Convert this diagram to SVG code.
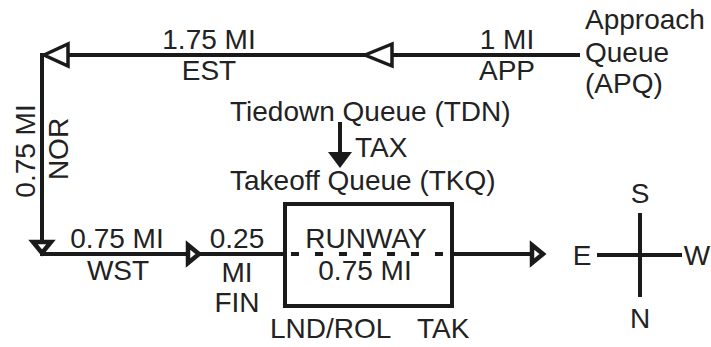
<svg xmlns="http://www.w3.org/2000/svg" width="711" height="347" viewBox="0 0 711 347">
<style>
text{font-family:"Liberation Sans",Arial,sans-serif;font-size:28px;fill:#222}
.m{text-anchor:middle}
.ln{stroke:#1a1a1a;stroke-width:4;fill:none}
.oh{stroke:#1a1a1a;stroke-width:3.5;fill:#fff;stroke-linejoin:miter}
.sh{stroke:#1a1a1a;stroke-width:4.5;fill:#fff;stroke-linejoin:miter}
</style>
<rect width="711" height="347" fill="#fff"/>
<g id="connectors">
<line class="ln" x1="42" y1="55" x2="580" y2="55"/>
<line class="ln" x1="42" y1="53" x2="42" y2="254"/>
<line class="ln" x1="40" y1="254" x2="285" y2="254"/>
<line class="ln" x1="452" y1="254" x2="540" y2="254"/>
<line class="ln" x1="340" y1="122" x2="340" y2="154"/>
<polygon points="328,152 352,152 340,168" fill="#1a1a1a"/>
<polygon class="oh" points="44,55 68,44 68,66"/>
<polygon class="oh" points="365,55 392,44 392,66"/>
<polygon class="sh" points="33,242 51,242 42,253"/>
<polygon class="sh" points="188,245 188,263 199,254"/>
<polygon class="sh" points="532,245 532,263 543,254"/>
</g>
<g id="approach">
<text x="585" y="29">Approach</text>
<text x="585" y="62">Queue</text>
<text x="585" y="93">(APQ)</text>
</g>
<g id="labels-top">
<text class="m" x="209" y="49">1.75 MI</text>
<text class="m" x="209" y="80">EST</text>
<text class="m" x="507" y="49">1 MI</text>
<text class="m" x="507" y="80">APP</text>
</g>
<g id="labels-left">
<text class="m" transform="translate(35,151) rotate(-90)">0.75 MI</text>
<text class="m" transform="translate(68,149) rotate(-90)">NOR</text>
</g>
<g id="tiedown">
<text x="230" y="121">Tiedown Queue (TDN)</text>
<text x="355" y="157">TAX</text>
</g>
<g id="takeoff">
<text x="230" y="190">Takeoff Queue (TKQ)</text>
</g>
<g id="labels-bottom">
<text class="m" x="117" y="248">0.75 MI</text>
<text class="m" x="118" y="280">WST</text>
<text class="m" x="237" y="248">0.25</text>
<text class="m" x="237" y="282">MI</text>
<text class="m" x="237" y="312">FIN</text>
</g>
<g id="runway">
<rect class="ln" x="285" y="204" width="167" height="102"/>
<line x1="291" y1="254" x2="450" y2="254" stroke="#1a1a1a" stroke-width="4" stroke-dasharray="8 16"/>
<text class="m" x="366" y="248">RUNWAY</text>
<text class="m" x="365" y="280">0.75 MI</text>
<text x="270" y="338">LND/ROL</text>
<text x="417" y="338">TAK</text>
</g>
<g id="compass">
<line class="ln" x1="640" y1="213" x2="640" y2="297"/>
<line class="ln" x1="597" y1="255" x2="682" y2="255"/>
<text class="m" x="640" y="203">S</text>
<text class="m" x="640" y="328">N</text>
<text class="m" x="582" y="265">E</text>
<text class="m" x="697" y="265">W</text>
</g>
</svg>
